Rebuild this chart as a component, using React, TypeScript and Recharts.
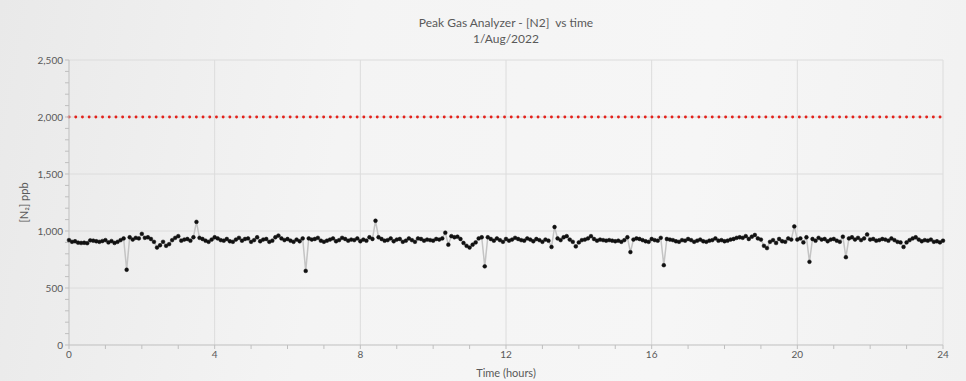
import React from 'react';
import { LineChart, Line, XAxis, YAxis, CartesianGrid, ReferenceLine, Label } from 'recharts';

// N2 readings in ppb, one every 5 minutes from 00:00 to 24:00 (one row per hour)
const n2Ppb: number[] = [
  920, 905, 910, 898, 895, 897, 893, 918, 915, 910, 905, 912,
  920, 900, 912, 895, 905, 920, 935, 660, 945, 925, 940, 935,
  975, 940, 945, 930, 905, 855, 875, 905, 870, 885, 920, 940,
  955, 915, 925, 930, 915, 945, 1080, 940, 930, 915, 905, 925,
  945, 935, 920, 915, 930, 910, 905, 925, 940, 915, 930, 935,
  905, 920, 945, 910, 925, 930, 905, 915, 945, 960, 935, 920,
  930, 915, 905, 925, 910, 935, 650, 935, 925, 930, 940, 915,
  905, 915, 925, 935, 910, 920, 940, 930, 915, 925, 920, 935,
  910, 925, 915, 945, 930, 1090, 945, 930, 915, 920, 935, 910,
  925, 930, 905, 915, 935, 920, 905, 935, 930, 915, 925, 920,
  915, 930, 925, 935, 985, 880, 955, 945, 950, 930, 895, 870,
  855, 880, 900, 935, 945, 690, 945, 930, 915, 935, 920, 905,
  930, 915, 925, 940, 930, 920, 915, 935, 925, 910, 930, 920,
  905, 925, 915, 860, 1035, 935, 920, 945, 955, 925, 905, 865,
  900, 920, 925, 935, 955, 930, 915, 925, 920, 915, 920, 915,
  910, 915, 905, 920, 945, 815, 925, 935, 930, 920, 910, 905,
  930, 920, 915, 940, 700, 930, 925, 920, 910, 905, 920, 915,
  930, 920, 905, 915, 925, 910, 905, 915, 920, 935, 915, 920,
  910, 915, 925, 930, 940, 945, 940, 955, 930, 950, 965, 935,
  925, 870, 850, 905, 920, 895, 930, 910, 905, 935, 925, 1040,
  925, 935, 900, 945, 730, 930, 915, 940, 925, 930, 910, 925,
  930, 915, 905, 950, 770, 935, 945, 925, 940, 920, 935, 970,
  925, 930, 915, 920, 930, 925, 915, 935, 920, 905, 900, 860,
  900, 920, 935, 945, 925, 910, 920, 915, 925, 905, 910, 900,
  915,
];

const sampleMinutes = 5;
const limitPpb = 2000;
const xTicks = [0, 1, 2, 3, 4, 5, 6, 7, 8, 9, 10, 11, 12, 13, 14, 15, 16, 17, 18, 19, 20, 21, 22, 23, 24];
const xGrid = [4, 8, 12, 16, 20, 24];
const yTicks = [0, 100, 200, 300, 400, 500, 600, 700, 800, 900, 1000, 1100, 1200, 1300, 1400, 1500, 1600, 1700, 1800, 1900, 2000, 2100, 2200, 2300, 2400, 2500];
const yGrid = [500, 1000, 1500, 2000, 2500];

const data = n2Ppb.map((v, i) => ({ hours: (i * sampleMinutes) / 60, n2: v }));

const axisColor = '#bfbfbf';
const textColor = '#595959';

const App: React.FC = () => {
  return (
    <div
      style={{
        position: 'absolute', left: 0, top: 0, width: 966, height: 381,
        background: 'linear-gradient(100deg, #e9e9e9 0%, #f4f4f4 35%, #f6f6f6 70%, #f1f1f1 100%)',
        fontFamily: 'Lato, "Open Sans", sans-serif',
      }}
    >
      <div style={{ position: 'absolute', left: 69, width: 874, top: 15, textAlign: 'center', color: textColor, fontSize: 12, lineHeight: '16px' }}>
        <div>Peak Gas Analyzer - [N2]&nbsp; vs time</div>
        <div>1/Aug/2022</div>
      </div>
      <LineChart width={966} height={381} data={data} margin={{ top: 60, right: 23, bottom: 0, left: 0 }}>
        <CartesianGrid stroke="#dcdcdc" horizontalValues={yGrid} verticalValues={xGrid} />
        <XAxis
          dataKey="hours"
          type="number"
          domain={[0, 24]}
          ticks={xTicks}
          interval={0}
          height={36}
          stroke={axisColor}
          tickSize={4}
          tick={{ fill: textColor, fontSize: 10 }}
          tickFormatter={(v: number) => (v % 4 === 0 ? String(v) : '')}
        >
          <Label value="Time (hours)" position="insideBottom" offset={4} fill={textColor} fontSize={11} />
        </XAxis>
        <YAxis
          type="number"
          domain={[0, 2500]}
          ticks={yTicks}
          interval={0}
          width={69}
          stroke={axisColor}
          tickSize={4}
          tick={{ fill: textColor, fontSize: 10 }}
          tickFormatter={(v: number) => (v % 500 === 0 ? v.toLocaleString('en-US') : '')}
        >
          <Label value="[N₂] ppb" angle={-90} position="insideLeft" offset={24} fill={textColor} fontSize={11} style={{ textAnchor: 'middle' }} />
        </YAxis>
        <ReferenceLine y={limitPpb} stroke="#e3221b" strokeWidth={2.8} strokeDasharray="0.1 6.6" strokeLinecap="round" />
        <Line
          dataKey="n2"
          type="linear"
          stroke="#c4c4c4"
          strokeWidth={1.5}
          dot={{ r: 1.9, fill: '#111', stroke: '#111', strokeWidth: 0.5 }}
          isAnimationActive={false}
        />
      </LineChart>
    </div>
  );
};

export default App;
